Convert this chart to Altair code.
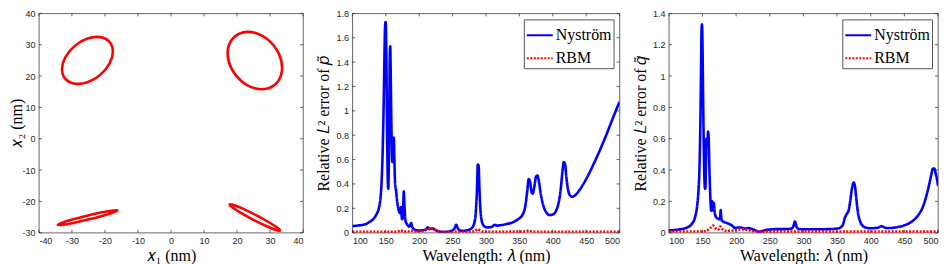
import altair as alt
import pandas as pd

# ---------------- Panel 1: scatterer boundaries ----
e1_x = [-33.0, -31.97, -29.15, -25.3, -21.45, -18.63, -17.6, -18.63, -21.45, -25.3, -29.15, -31.97]
e1_y = [22.2, 26.06, 29.63, 31.96, 32.43, 30.9, 27.8, 23.95, 20.37, 18.04, 17.57, 19.1]
e2_x = [17.15, 18.26, 21.28, 25.4, 29.53, 32.55, 33.65, 32.55, 29.53, 25.4, 21.28, 18.26]
e2_y = [27.25, 31.37, 33.77, 33.81, 31.47, 27.39, 22.65, 18.53, 16.13, 16.09, 18.43, 22.51]
e3_x = [-16.2, -17.49, -20.86, -25.4, -29.9, -33.15, -34.28, -32.99, -29.62, -25.08, -20.58, -17.33]
e3_y = [-22.9, -22.89, -23.5, -24.56, -25.79, -26.86, -27.48, -27.49, -26.88, -25.82, -24.59, -23.52]
e4_x = [32.99, 32.17, 29.53, 25.77, 21.9, 18.96, 17.73, 18.55, 21.19, 24.95, 28.82, 31.76]
e4_y = [-29.32, -28.39, -26.59, -24.4, -22.41, -21.15, -20.96, -21.89, -23.7, -25.89, -27.88, -29.13]

x1_ticks = [-40, -30, -20, -10, 0, 10, 20, 30, 40]
y1_ticks = [-30, -20, -10, 0, 10, 20, 30, 40]

# ---------------- Panel 2: relative L2 error of p~ ----------------
p_lam = [100, 110, 120, 126, 131, 136, 140, 142, 144, 145.5, 147, 148, 149, 149.8, 150.5, 151.3,
         152.2, 153, 153.7, 154.5, 155.3, 156, 156.7, 157.4, 158.2, 159, 159.8, 160.6, 161.3, 162,
         162.8, 163.6, 164.5, 165.4, 166.5, 168, 170, 171.5, 172.5, 173.5, 174.5, 175.5, 176.3, 177,
         178, 179.5, 181, 183, 185, 186.5, 188, 189.5, 192, 196, 200, 205, 210, 213, 215.5, 218, 220,
         222.5, 226, 230, 235, 240, 245, 250, 253, 255.5, 257.5, 260, 265, 270, 275, 279, 282, 284.5,
         286.5, 287.8, 289, 290.3, 292, 294.5, 298, 302, 306, 310, 313, 316, 320, 330, 340, 348, 355,
         359, 362, 364, 366, 368, 370, 372.5, 375, 377, 379, 382, 386, 390, 395, 400, 405, 409, 412,
         414.5, 416.5, 418.5, 420.5, 423, 426, 429, 433, 440, 450, 460, 470, 480, 490, 500]
p_nys = [0.055, 0.06, 0.07, 0.09, 0.11, 0.15, 0.21, 0.28, 0.45, 0.7, 1.1, 1.45, 1.70, 1.73, 1.6, 1.2,
         0.7, 0.42, 0.36, 0.55, 1.0, 1.45, 1.53, 1.3, 0.95, 0.7, 0.58, 0.6, 0.72, 0.78,
         0.62, 0.45, 0.37, 0.35, 0.28, 0.22, 0.17, 0.16, 0.21, 0.15, 0.11, 0.13, 0.25, 0.34,
         0.22, 0.1, 0.075, 0.06, 0.05, 0.06, 0.08, 0.05, 0.03, 0.02, 0.018, 0.02, 0.025, 0.045, 0.03, 0.035, 0.036,
         0.028, 0.018, 0.01, 0.006, 0.006, 0.01, 0.02, 0.035, 0.065, 0.04, 0.02, 0.016, 0.018, 0.025, 0.04, 0.07, 0.15,
         0.35, 0.56, 0.55, 0.35, 0.17, 0.08, 0.05, 0.043, 0.045, 0.052, 0.065, 0.058, 0.06, 0.07, 0.085, 0.11, 0.15,
         0.22, 0.35, 0.44, 0.42, 0.34, 0.32, 0.38, 0.46, 0.47, 0.43, 0.32, 0.22, 0.17, 0.145, 0.15, 0.18, 0.25, 0.36,
         0.5, 0.58, 0.56, 0.45, 0.35, 0.305, 0.295, 0.305, 0.35, 0.44, 0.55, 0.67, 0.8, 0.94, 1.075]
p_rbm_lam = [100, 165, 169, 172.5, 176, 183, 188, 193, 200, 207, 212, 215, 217, 220, 223, 228, 235,
             278, 284, 287.5, 291, 297, 358, 364.5, 370, 500]
p_rbm = [0.008, 0.008, 0.012, 0.02, 0.01, 0.01, 0.016, 0.01, 0.012, 0.015, 0.028, 0.03, 0.024, 0.034,
         0.026, 0.012, 0.007, 0.008, 0.015, 0.03, 0.018, 0.008, 0.009, 0.017, 0.008, 0.007]

# ---------------- Panel 3: relative L2 error of q~ ----------------
q_lam = [100, 110, 120, 128, 134, 139, 142, 144, 145.5, 146.8, 147.7, 148.5, 149.2, 150, 150.8, 151.7,
         152.5, 153.4, 154.2, 155, 155.8, 156.6, 157.4, 158.3, 159.2, 160, 161, 162, 162.8, 163.6, 164.4,
         165.3, 166, 166.8, 167.6, 169, 171, 173, 175, 176.3, 177, 177.8, 179, 182, 186, 190, 194, 198,
         202, 206, 210, 213, 216, 219, 222, 226, 230, 235, 240, 245, 250, 260, 270, 280, 284, 286, 287.3,
         288.5, 290, 293, 300, 320, 340, 352, 358, 362, 364.5, 367, 369.5, 372, 374.5, 376.5, 378.5, 381,
         384, 388, 393, 400, 408, 413, 416, 419, 423, 430, 440, 450, 458, 465, 472, 478, 483, 487, 490,
         492.5, 494.5, 496.5, 498.5, 500]
q_nys = [0.015, 0.018, 0.024, 0.035, 0.055, 0.1, 0.17, 0.27, 0.42, 0.7, 1.0, 1.28, 1.33, 1.2, 0.9, 0.6,
         0.4, 0.29, 0.28, 0.4, 0.6, 0.58, 0.56, 0.645, 0.6, 0.45, 0.3, 0.19, 0.14, 0.15, 0.2,
         0.19, 0.14, 0.19, 0.15, 0.11, 0.095, 0.09, 0.085, 0.1, 0.145, 0.1, 0.075, 0.068, 0.062, 0.055, 0.045, 0.03,
         0.033, 0.033, 0.03, 0.026, 0.028, 0.03, 0.025, 0.02, 0.012, 0.006, 0.012, 0.018, 0.02, 0.023, 0.023, 0.024,
         0.032, 0.055, 0.072, 0.06, 0.035, 0.024, 0.022, 0.022, 0.023, 0.028, 0.045, 0.1, 0.12, 0.14, 0.2, 0.28,
         0.32, 0.3, 0.22, 0.13, 0.075, 0.045, 0.032, 0.028, 0.03, 0.036, 0.042, 0.037, 0.03, 0.03, 0.036, 0.047,
         0.062, 0.085, 0.12, 0.17, 0.24, 0.31, 0.37, 0.41, 0.41, 0.38, 0.34, 0.3]
q_rbm_lam = [100, 150, 156, 160, 163, 165.5, 168, 171, 173.5, 176.5, 179, 183, 190, 198, 205, 212, 218,
             225, 232, 500]
q_rbm = [0.008, 0.008, 0.012, 0.025, 0.035, 0.045, 0.035, 0.022, 0.02, 0.04, 0.025, 0.012, 0.012,
         0.016, 0.02, 0.022, 0.016, 0.01, 0.007, 0.007]

lam_ticks = [100, 150, 200, 250, 300, 350, 400, 450, 500]
p_ticks = [0, 0.2, 0.4, 0.6, 0.8, 1, 1.2, 1.4, 1.6, 1.8]
q_ticks = [0, 0.2, 0.4, 0.6, 0.8, 1, 1.2, 1.4]

methods = ["Nyström", "RBM"]

AX = "#262626"
SERIF = "Liberation Serif"
SANS = "Liberation Sans"
TICK = 3


def axis(vals, title, tpad):
    return alt.Axis(values=vals, title=title, ticks=False, domain=False, grid=False,
                    labelExpr="'' + datum.value", titlePadding=tpad)


def frame_ticks(xs, ys, xax, yax, xticks, yticks, W, H):
    tx = pd.DataFrame({"t": xticks})
    ty = pd.DataFrame({"t": yticks})
    r = dict(color=AX, strokeWidth=0.7)
    bot = alt.Chart(tx).mark_rule(**r).encode(
        x=alt.X("t:Q", scale=xs, axis=xax), y=alt.value(H), y2=alt.value(H - TICK))
    top = alt.Chart(tx).mark_rule(**r).encode(
        x=alt.X("t:Q", scale=xs, axis=xax), y=alt.value(0), y2=alt.value(TICK))
    left = alt.Chart(ty).mark_rule(**r).encode(
        y=alt.Y("t:Q", scale=ys, axis=yax), x=alt.value(0), x2=alt.value(TICK))
    right = alt.Chart(ty).mark_rule(**r).encode(
        y=alt.Y("t:Q", scale=ys, axis=yax), x=alt.value(W - TICK), x2=alt.value(W))
    return [bot, top, left, right]


H = 220

# ---- panel 1
rows = []
for k, (xs_, ys_) in enumerate([(e1_x, e1_y), (e2_x, e2_y), (e3_x, e3_y), (e4_x, e4_y)]):
    for i, (a, b) in enumerate(zip(xs_, ys_)):
        rows.append({"id": k, "i": i, "x": a, "y": b})
df1 = pd.DataFrame(rows)
W1 = 265
sx1 = alt.Scale(domain=[-40, 40], nice=False, zero=False)
sy1 = alt.Scale(domain=[-30, 40], nice=False, zero=False)
ax1 = axis(x1_ticks, "𝑥₁ (nm)", 2)
ay1 = axis(y1_ticks, "𝑥₂ (nm)", -3)
ell = alt.Chart(df1).mark_line(color="#ff0000", strokeWidth=2.6, interpolate="cardinal-closed").encode(
    x=alt.X("x:Q", scale=sx1, axis=ax1),
    y=alt.Y("y:Q", scale=sy1, axis=ay1),
    detail="id:N", order="i:Q")
p1 = alt.layer(ell, *frame_ticks(sx1, sy1, ax1, ay1, x1_ticks, y1_ticks, W1, H)).properties(width=W1, height=H)


def err_panel(lam, nys, rlam, rbm, yt, ymax, ytitle, W):
    df = pd.concat([
        pd.DataFrame({"lam": lam, "v": nys, "m": methods[0]}),
        pd.DataFrame({"lam": rlam, "v": rbm, "m": methods[1]}),
    ])
    sx = alt.Scale(domain=[100, 500], nice=False, zero=False)
    sy = alt.Scale(domain=[0, ymax], nice=False, zero=False)
    xax = axis(lam_ticks, "Wavelength: 𝜆 (nm)", 2)
    yax = axis(yt, ytitle, 4)
    leg = alt.Legend(title=None, orient="top-right", offset=6, symbolType="stroke",
                     symbolSize=676, symbolStrokeWidth=2, labelFont=SERIF, labelFontSize=16,
                     labelColor="#000", strokeColor="#555555", fillColor="white", padding=2,
                     labelOffset=2, rowPadding=1, cornerRadius=0)
    lines = alt.Chart(df).mark_line(strokeWidth=2.6, interpolate="monotone", clip=True).encode(
        x=alt.X("lam:Q", scale=sx, axis=xax),
        y=alt.Y("v:Q", scale=sy, axis=yax),
        color=alt.Color("m:N", scale=alt.Scale(domain=methods, range=["#0000ff", "#ff0000"]), legend=leg),
        strokeDash=alt.StrokeDash("m:N", scale=alt.Scale(domain=methods, range=[[1, 0], [2, 1.5]]), legend=leg),
    )
    return alt.layer(lines, *frame_ticks(sx, sy, xax, yax, lam_ticks, yt, W, H)).properties(width=W, height=H)


p2 = err_panel(p_lam, p_nys, p_rbm_lam, p_rbm, p_ticks, 1.8, "Relative 𝐿² error of 𝑝̃", 268)
p3 = err_panel(q_lam, q_nys, q_rbm_lam, q_rbm, q_ticks, 1.4, "Relative 𝐿² error of 𝑞̃", 270)

chart = alt.hconcat(p1, p2, p3, spacing=49.5, bounds="flush").resolve_scale(
    color="independent", strokeDash="independent", x="independent", y="independent"
).properties(padding=0).configure_view(stroke=AX, strokeWidth=0.7).configure_axis(
    labelFont=SANS, labelFontSize=9, labelColor=AX, labelPadding=4,
    titleFont=SERIF, titleFontSize=16, titleFontWeight="normal", titleColor="#000"
)

chart.save("out.html", embed_options={"renderer": "svg", "actions": False})
